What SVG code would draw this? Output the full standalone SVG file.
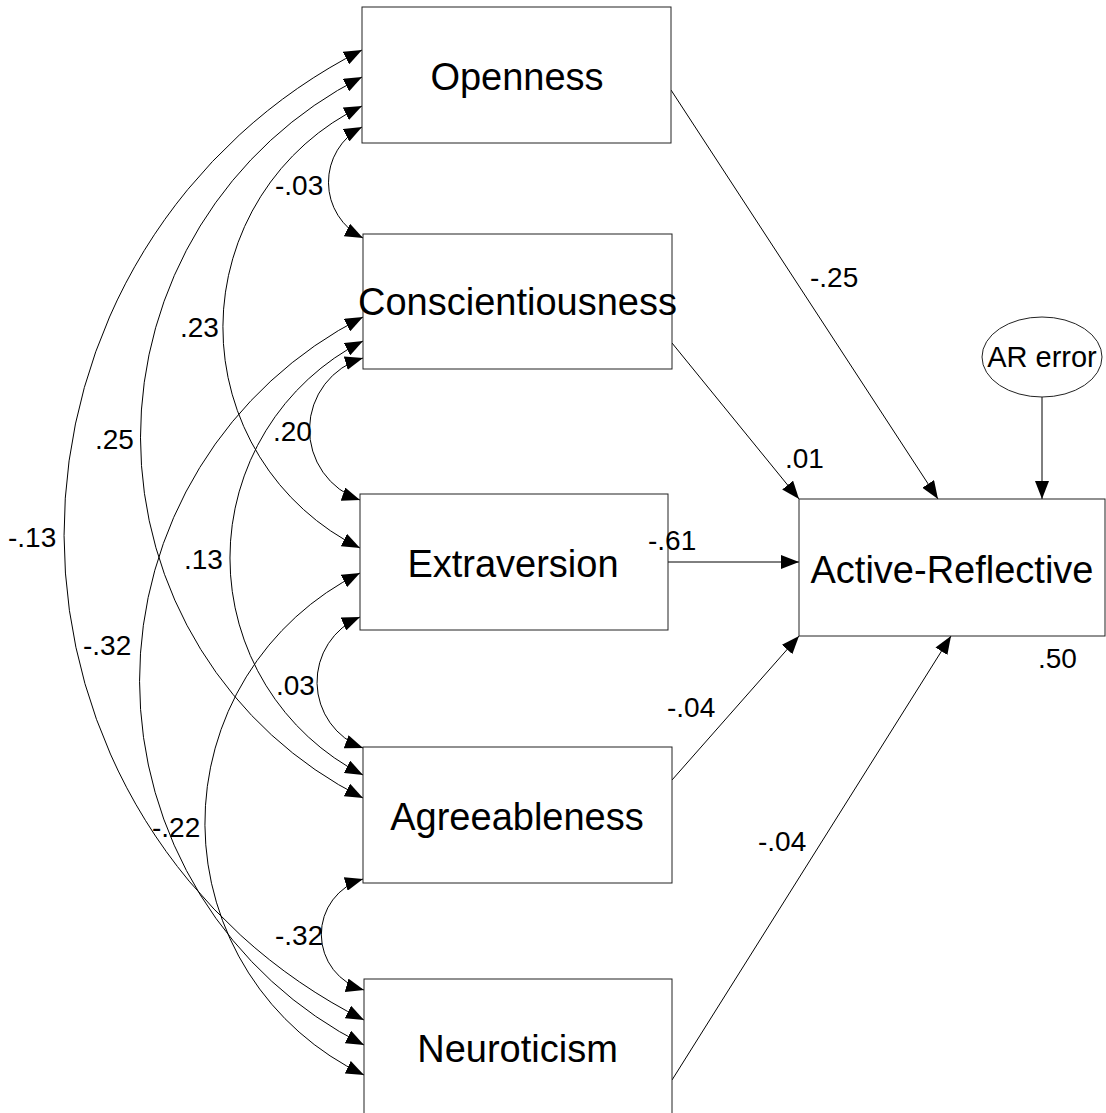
<svg xmlns="http://www.w3.org/2000/svg" width="1106" height="1113" viewBox="0 0 1106 1113">
  <style>
    .box { fill: #ffffff; stroke: #222222; stroke-width: 1; }
    .err { fill: #ffffff; stroke: #222222; stroke-width: 1; }
    .name { font-family: "Liberation Sans", Arial, sans-serif; font-size: 38px; fill: #000000; text-anchor: middle; }
    .ename { font-family: "Liberation Sans", Arial, sans-serif; font-size: 29px; fill: #000000; text-anchor: middle; }
    .coef { font-family: "Liberation Sans", Arial, sans-serif; font-size: 28px; fill: #000000; }
    .cov { fill: none; stroke: #000000; stroke-width: 1; marker-start: url(#head); marker-end: url(#head); }
    .path { fill: none; stroke: #000000; stroke-width: 1; marker-end: url(#head); }
  </style>
  <defs>
    <marker id="head" viewBox="0 0 18 14" refX="18" refY="7" markerWidth="18" markerHeight="14" markerUnits="userSpaceOnUse" orient="auto-start-reverse">
      <path d="M0,0 L18,7 L0,14 z" fill="#000000"/>
    </marker>
  </defs>

  <rect width="1106" height="1113" fill="#ffffff"/>

  <!-- connectors: covariances (curved, two-headed) and regression paths -->
  <g id="connectors">
    <!-- Openness covariances -->
    <path class="cov" d="M362,127 A62.3,62.3 0 0 0 363,238"/>
    <path class="cov" d="M362,106 A245.9,245.9 0 0 0 360,548"/>
    <path class="cov" d="M362,77 A403.7,403.7 0 0 0 363,798"/>
    <path class="cov" d="M362,50 A542.9,542.9 0 0 0 364,1020"/>
    <!-- Conscientiousness covariances -->
    <path class="cov" d="M363,358 A74.5,74.5 0 0 0 360,500"/>
    <path class="cov" d="M363,341 A243.5,243.5 0 0 0 363,775"/>
    <path class="cov" d="M363,317 A407.8,407.8 0 0 0 364,1045"/>
    <!-- Extraversion covariances -->
    <path class="cov" d="M360,617 A70.5,70.5 0 0 0 363,748"/>
    <path class="cov" d="M360,573 A279.1,279.1 0 0 0 364,1075"/>
    <!-- Agreeableness-Neuroticism -->
    <path class="cov" d="M363,879 A57.6,57.6 0 0 0 364,990"/>

    <!-- regression paths to Active-Reflective -->
    <path class="path" d="M671,90 L938,499"/>
    <path class="path" d="M672,343 L799,499"/>
    <path class="path" d="M668,562 L799,562"/>
    <path class="path" d="M672,780 L799,636"/>
    <path class="path" d="M672,1080 L951,636"/>
    <path class="path" d="M1042,397 L1042,499"/>
  </g>

  <g id="openness">
    <rect class="box" x="362" y="7" width="309" height="136"/>
    <text class="name" x="517" y="90">Openness</text>
  </g>
  <g id="conscientiousness">
    <rect class="box" x="363" y="234" width="309" height="135"/>
    <text class="name" x="517.5" y="315">Conscientiousness</text>
  </g>
  <g id="extraversion">
    <rect class="box" x="360" y="494" width="308" height="136"/>
    <text class="name" x="513" y="577">Extraversion</text>
  </g>
  <g id="agreeableness">
    <rect class="box" x="363" y="747" width="309" height="136"/>
    <text class="name" x="517" y="830">Agreeableness</text>
  </g>
  <g id="neuroticism">
    <rect class="box" x="364" y="979" width="308" height="136"/>
    <text class="name" x="517.5" y="1062">Neuroticism</text>
  </g>
  <g id="active-reflective">
    <rect class="box" x="799" y="499" width="306" height="137"/>
    <text class="name" x="952" y="583">Active-Reflective</text>
  </g>
  <g id="ar-error">
    <ellipse class="err" cx="1042" cy="357" rx="60" ry="40"/>
    <text class="ename" x="1042" y="367">AR error</text>
  </g>

  <!-- coefficient labels -->
  <g id="labels">
    <text class="coef" x="275" y="195">-.03</text>
    <text class="coef" x="180" y="337">.23</text>
    <text class="coef" x="95" y="449">.25</text>
    <text class="coef" x="8" y="547">-.13</text>
    <text class="coef" x="273" y="441">.20</text>
    <text class="coef" x="184" y="569">.13</text>
    <text class="coef" x="83" y="655">-.32</text>
    <text class="coef" x="276" y="695">.03</text>
    <text class="coef" x="152" y="837">-.22</text>
    <text class="coef" x="275" y="945">-.32</text>
    <text class="coef" x="810" y="287">-.25</text>
    <text class="coef" x="785" y="468">.01</text>
    <text class="coef" x="648" y="550">-.61</text>
    <text class="coef" x="1038" y="668">.50</text>
    <text class="coef" x="667" y="717">-.04</text>
    <text class="coef" x="758" y="851">-.04</text>
  </g>
</svg>
